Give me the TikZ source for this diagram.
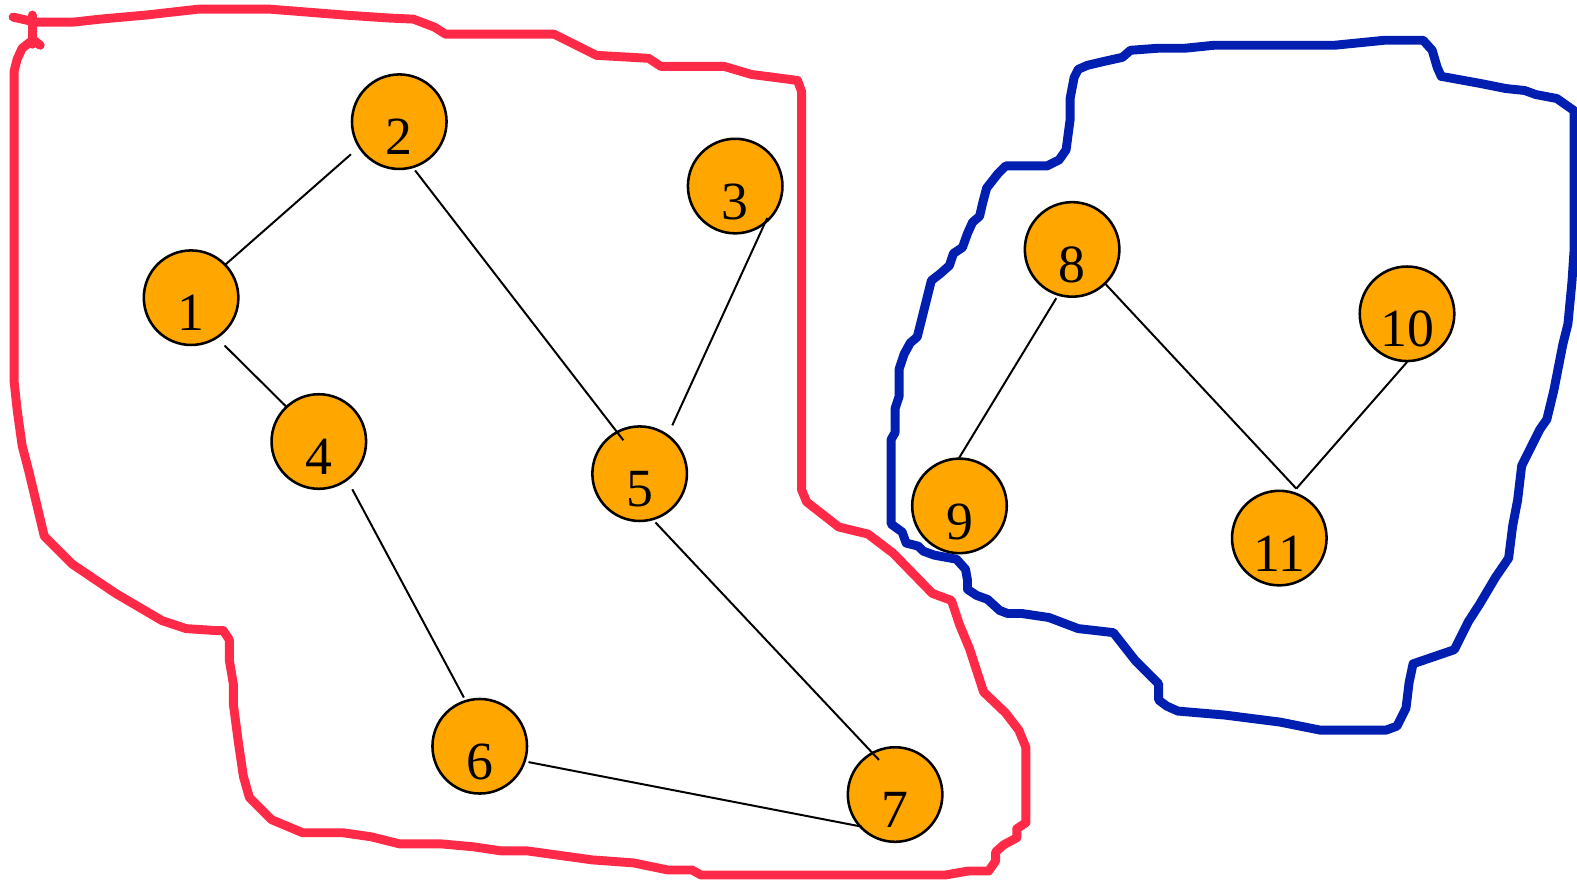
\documentclass[tikz,border=0pt]{standalone}
\usepackage{fontspec}
\setmainfont{Liberation Serif}
\usepackage{tikz}
\usetikzlibrary{calc}
\definecolor{vfill}{RGB}{255,166,0}
\definecolor{setred}{RGB}{255,42,72}
\definecolor{setblue}{RGB}{0,30,176}
\tikzset{
vertex/.style = {draw, fill=vfill, circle, line width=1.8pt, inner sep=0pt, minimum size=2.35cm,
                 text height=1.65cm, text depth=0pt, font=\fontsize{38}{38}\selectfont},
edge/.style = {draw, black, line width=1.4pt},
region/.style = {line width=6.3pt, line join=round, line cap=round},
}

\begin{document}
\begin{tikzpicture}[x=0.025cm, y=-0.025cm]
        \useasboundingbox (0,0) rectangle (1568,874);
        % red set around 1..7
        \draw[region, setred] (13,17) -- (35,22) -- (73,22) -- (100,19) -- (145,15) -- (198,9) -- (267,9)
          -- (343,15) -- (388,18) -- (411,19) -- (432,27) -- (443,34) -- (551,34) -- (593,55) -- (645,58)
          -- (657,66) -- (720,66) -- (747,74) -- (793,80) -- (797,91) -- (797,487) -- (802,499) -- (834,524)
          -- (863,531) -- (888,550) -- (927,590) -- (946,597) -- (954,621) -- (964,645) -- (978,688)
          -- (1000,709) -- (1013,726) -- (1020,743) -- (1020,818) -- (1011,824) -- (1011,833) -- (998,840)
          -- (990,847) -- (990,856) -- (983,866) -- (963,866) -- (940,870) -- (697,870) -- (688,865)
          -- (664,865) -- (630,858) -- (589,855) -- (524,846) -- (498,846) -- (471,842) -- (438,839)
          -- (397,839) -- (369,832) -- (341,828) -- (301,828) -- (270,815) -- (248,793) -- (242,772)
          -- (237,738) -- (232,700) -- (232,680) -- (228,656) -- (228,636) -- (222,627) -- (215,627)
          -- (185,625) -- (161,617) -- (115,590) -- (72,561) -- (44,533) -- (29,470) -- (22,443)
          -- (17,407) -- (14,379) -- (14,71) -- (17,59) -- (22,48) -- (31,41) -- (35,41) -- (40,45);
        \draw[region, setred] (32,15) -- (32,44);
        % blue set around 8..11
        \draw[region, setblue] (1415,40) -- (1377,40) -- (1327,45) -- (1207,45) -- (1178,48) -- (1151,48)
          -- (1124,50) -- (1116,57) -- (1098,61) -- (1081,65) -- (1072,69) -- (1068,77) -- (1064,98)
          -- (1064,119) -- (1060,149) -- (1053,159) -- (1041,165) -- (1000,165) -- (992,173) -- (981,187)
          -- (977,202) -- (974,215) -- (967,221) -- (962,232) -- (957,246) -- (948,252) -- (944,264)
          -- (935,272) -- (926,279) -- (921,299) -- (916,319) -- (912,335) -- (905,341) -- (899,352)
          -- (894,367) -- (894,394) -- (890,406) -- (890,430) -- (886,437) -- (886,521) -- (897,529)
          -- (901,540) -- (913,543) -- (918,548) -- (929,552) -- (951,556) -- (960,566) -- (962,577)
          -- (962,586) -- (971,592) -- (982,596) -- (994,607) -- (1002,610) -- (1016,610) -- (1043,614)
          -- (1072,625) -- (1107,629) -- (1129,657) -- (1152,680) -- (1152,696) -- (1160,702) -- (1171,707)
          -- (1218,711) -- (1273,718) -- (1313,726) -- (1378,726) -- (1389,722) -- (1398,704) -- (1401,679)
          -- (1405,660) -- (1446,646) -- (1460,618) -- (1471,601) -- (1487,574) -- (1500,555) -- (1504,523)
          -- (1509,497) -- (1513,463) -- (1531,427) -- (1538,417) -- (1545,388) -- (1554,342) -- (1559,322)
          -- (1563,280) -- (1565,250) -- (1565,110) -- (1548,98) -- (1527,94) -- (1516,90) -- (1497,88)
          -- (1472,83) -- (1439,77) -- (1433,76) -- (1429,67) -- (1424,50) -- cycle;
        % vertices
        \node[vertex] (n1) at (190,296) {1};
        \node[vertex] (n2) at (397,121) {2};
        \node[vertex] (n3) at (731,185) {3};
        \node[vertex] (n4) at (317,439) {4};
        \node[vertex] (n5) at (636,471) {5};
        \node[vertex] (n6) at (477,742) {6};
        \node[vertex] (n7) at (890,790) {7};
        \node[vertex] (n8) at (1066,248) {8};
        \node[vertex] (n9) at (954,503) {9};
        \node[vertex] (n10) at (1399,312) {10};
        \node[vertex] (n11) at (1272,535) {11};
        % edges (ends given as angle:distance from the vertex centre, y points down)
        \draw[edge] ($(n1)+(-44:47)$) -- ($(n2)+(146:58)$);
        \draw[edge] ($(n1)+(55:58)$) -- ($(n4)+(-133:47)$);
        \draw[edge] ($(n2)+(72:51)$) -- ($(n5)+(-116:37)$);
        \draw[edge] ($(n3)+(45:45)$) -- ($(n5)+(-56:58)$);
        \draw[edge] ($(n4)+(55:58)$) -- ($(n6)+(-108:51)$);
        \draw[edge] ($(n5)+(72:51)$) -- ($(n7)+(-115:38)$);
        \draw[edge] ($(n6)+(18:51)$) -- ($(n7)+(-224:46)$);
        \draw[edge] ($(n8)+(108:51)$) -- ($(n9)+(-91:47)$);
        \draw[edge] ($(n8)+(46:47)$) -- ($(n11)+(-71:52)$);
        \draw[edge] ($(n10)+(90:48)$) -- ($(n11)+(-71:52)$);
\end{tikzpicture}
\end{document}
